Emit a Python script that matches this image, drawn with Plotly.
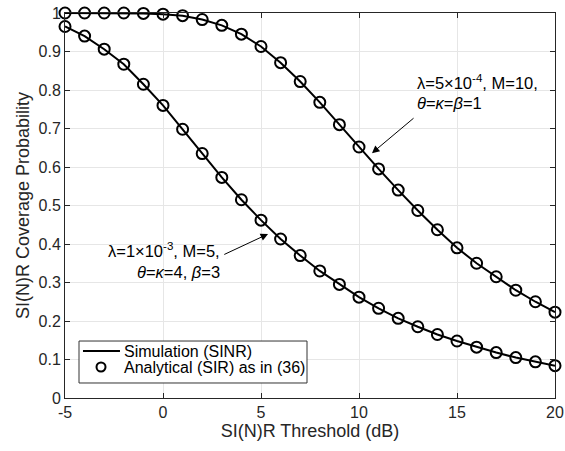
import plotly.graph_objects as go

thr_db = list(range(-5, 21))
cov_m10 = [1.0, 1.0, 1.0, 1.0, 0.999, 0.997, 0.993, 0.983, 0.968, 0.945, 0.913, 0.871,
           0.822, 0.768, 0.71, 0.652, 0.595, 0.54, 0.487, 0.437, 0.39, 0.35, 0.315,
           0.28, 0.25, 0.223]
cov_m5 = [0.965, 0.94, 0.906, 0.867, 0.815, 0.76, 0.698, 0.635, 0.573, 0.515, 0.462,
          0.413, 0.37, 0.33, 0.295, 0.262, 0.233, 0.207, 0.185, 0.165, 0.148, 0.132,
          0.118, 0.105, 0.094, 0.084]

xticks = [-5, 0, 5, 10, 15, 20]
xtick_text = ["-5", "0", "5", "10", "15", "20"]
yticks = [0, 0.1, 0.2, 0.3, 0.4, 0.5, 0.6, 0.7, 0.8, 0.9, 1]
ytick_text = ["0", "0.1", "0.2", "0.3", "0.4", "0.5", "0.6", "0.7", "0.8", "0.9", "1"]
legend_labels = ["Simulation (SINR)", "Analytical (SIR) as in (36)"]

FONT = "Liberation Sans, Arial, sans-serif"
TXT = "#262626"

fig = go.Figure()
for ys in [cov_m10, cov_m5]:
    fig.add_trace(go.Scatter(x=thr_db, y=ys, mode="lines",
                             line=dict(color="black", width=2),
                             name=legend_labels[0], showlegend=False))
for ys in [cov_m10, cov_m5]:
    fig.add_trace(go.Scatter(x=thr_db, y=ys, mode="markers", cliponaxis=False,
                             marker=dict(symbol="circle-open", size=11, color="black",
                                         line=dict(width=2, color="black")),
                             name=legend_labels[1], showlegend=False))

AF = dict(size=16.5, color="black", family=FONT)
fig.add_annotation(x=12.86, y=0.821, xref="x", yref="y", showarrow=False,
                   text="λ=5×10<sup>-4</sup>, M=10,", xanchor="left", yanchor="middle", font=AF)
fig.add_annotation(x=12.86, y=0.766, xref="x", yref="y", showarrow=False,
                   text="<i>θ</i>=<i>κ</i>=<i>β</i>=1", xanchor="left", yanchor="middle", font=AF)
fig.add_annotation(x=3.0, y=0.384, xref="x", yref="y", showarrow=False,
                   text="λ=1×10<sup>-3</sup>, M=5,", xanchor="right", yanchor="middle", font=AF)
fig.add_annotation(x=3.0, y=0.327, xref="x", yref="y", showarrow=False,
                   text="<i>θ</i>=<i>κ</i>=4, <i>β</i>=3", xanchor="right", yanchor="middle", font=AF)
fig.add_annotation(x=10.66, y=0.636, ax=12.86, ay=0.73, xref="x", yref="y",
                   axref="x", ayref="y", text="", showarrow=True, arrowhead=2,
                   arrowsize=1.5, arrowwidth=1, arrowcolor="black")
fig.add_annotation(x=5.36, y=0.426, ax=3.05, ay=0.371, xref="x", yref="y",
                   axref="x", ayref="y", text="", showarrow=True, arrowhead=2,
                   arrowsize=1.5, arrowwidth=1, arrowcolor="black")

# legend box (drawn manually to match compact layout)
fig.add_shape(type="rect", xref="paper", yref="paper", x0=0.0286, x1=0.4939,
              y0=0.039, y1=0.148, fillcolor="white", line=dict(color="#333333", width=1),
              layer="above")
fig.add_shape(type="line", xref="paper", yref="paper", x0=0.0367, x1=0.1122,
              y0=0.122, y1=0.122, line=dict(color="black", width=2), layer="above")
fig.add_shape(type="circle", xref="paper", yref="paper", xsizemode="pixel", ysizemode="pixel",
              xanchor=0.0735, yanchor=0.0805, x0=-4.5, x1=4.5, y0=-4.5, y1=4.5,
              line=dict(color="black", width=2), layer="above")
for lab, ly in zip(legend_labels, [0.122, 0.0805]):
    fig.add_annotation(x=0.1163, y=ly, xref="paper", yref="paper", showarrow=False,
                       text=lab, xanchor="left", yanchor="middle",
                       font=dict(size=16, color="black", family=FONT))

fig.update_layout(
    width=565, height=451,
    margin=dict(l=65, r=10, t=13, b=53),
    paper_bgcolor="white", plot_bgcolor="white",
    font=dict(family=FONT, size=16, color=TXT),
    showlegend=False,
    xaxis=dict(range=[-5, 20], tickvals=xticks, ticktext=xtick_text, showgrid=True,
               gridcolor="#e6e6e6", gridwidth=1, zeroline=False, automargin=False,
               ticks="inside", ticklen=5, tickcolor=TXT,
               showline=True, linecolor=TXT, linewidth=1, mirror="ticks",
               title=dict(text="SI(N)R Threshold (dB)", font=dict(size=18), standoff=4),
               tickfont=dict(size=16)),
    yaxis=dict(range=[0, 1], tickvals=yticks, ticktext=ytick_text, showgrid=True,
               gridcolor="#e6e6e6", gridwidth=1, zeroline=False, automargin=False,
               ticks="inside", ticklen=5, tickcolor=TXT,
               showline=True, linecolor=TXT, linewidth=1, mirror="ticks",
               title=dict(text="SI(N)R Coverage Probability", font=dict(size=18), standoff=4),
               tickfont=dict(size=16)),
)

fig.write_html("out.html", config={"displayModeBar": False},
               post_script="document.body.style.margin='0px';")
